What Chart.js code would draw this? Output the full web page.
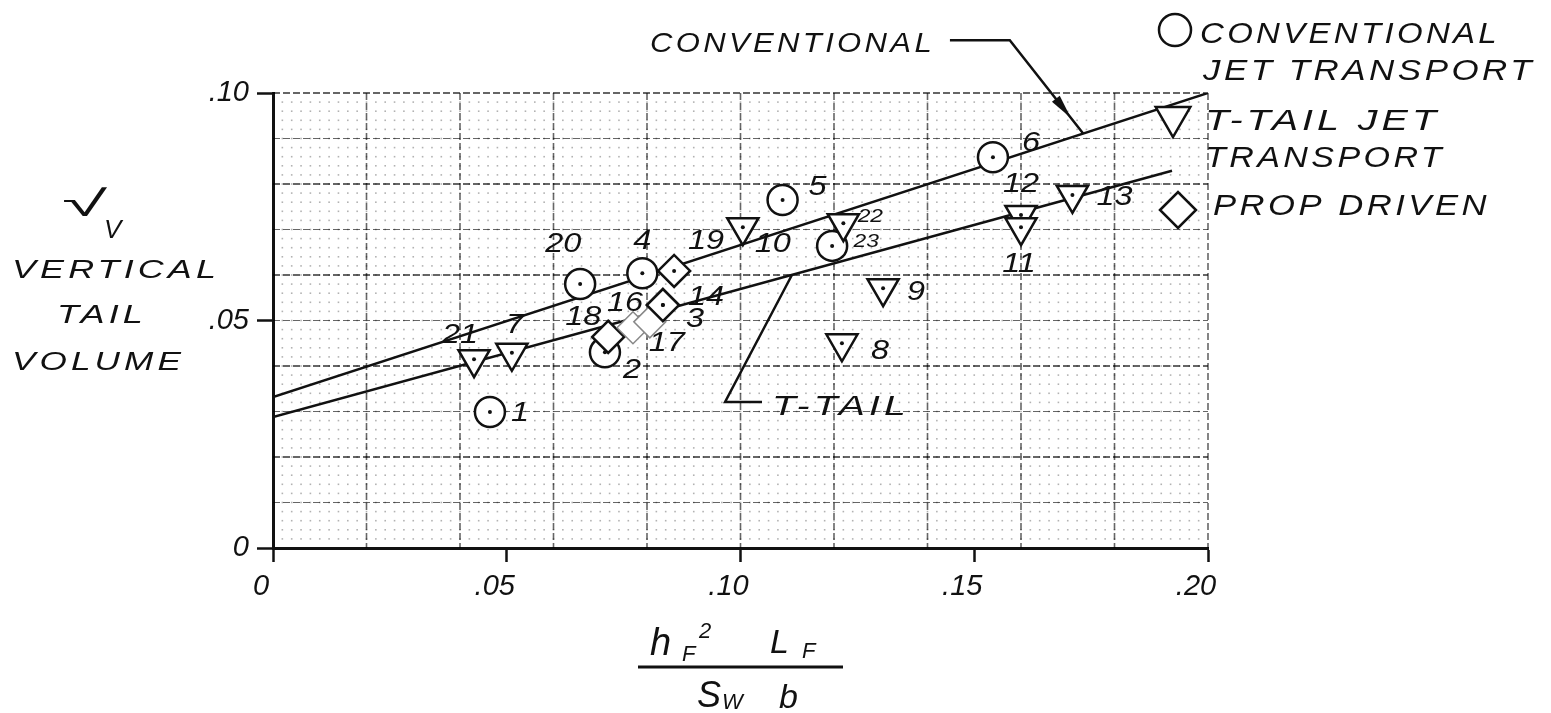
<!DOCTYPE html>
<html>
<head>
<meta charset="utf-8">
<script src="https://cdn.jsdelivr.net/npm/chart.js@4.4.0/dist/chart.umd.min.js"></script>
<style>
  html, body { margin: 0; padding: 0; background: #fff; }
  #wrap { width: 1551px; height: 713px; }
</style>
</head>
<body>
<div id="wrap"><canvas id="myChart"></canvas></div>
<script>
// conventional jet transports (circles)
const convNames = ['1', '2', '4', '5', '6', '20', '23'];
const convX = [0.0464, 0.071, 0.079, 0.109, 0.154, 0.0657, 0.1196];
const convY = [0.0299, 0.043, 0.0604, 0.0765, 0.0859, 0.058, 0.0664];

// T-tail jet transports (triangles)
const tailNames = ['21', '7', '10', '22', '9', '8', '12', '11', '13'];
const tailX = [0.043, 0.0511, 0.1005, 0.122, 0.1305, 0.1217, 0.160, 0.160, 0.171];
const tailY = [0.0415, 0.0429, 0.0705, 0.0714, 0.0571, 0.045, 0.0732, 0.0705, 0.0776];

// prop driven (diamonds)
const propNames = ['18', '16', '17', '3', '14', '19'];
const propX = [0.0717, 0.077, 0.0806, 0.0834, 0.0834, 0.0858];
const propY = [0.0464, 0.0484, 0.0497, 0.0534, 0.0534, 0.0609];

// faired lines
const convLineX = [0, 0.2];
const convLineY = [0.0332, 0.1];
const tailLineX = [0, 0.1923];
const tailLineY = [0.0288, 0.0829];

const xTicks = [0, 0.05, 0.10, 0.15, 0.20];
const yTicks = [0, 0.05, 0.10];

const FONT = '"Liberation Sans", Arial, sans-serif';
const ink = '#111';

const pts = (xs, ys) => xs.map((v, i) => ({ x: v, y: ys[i] }));
const tickText = (v) => (v === 0 ? '0' : v.toFixed(2).slice(1));

// where each number sits relative to its marker (px)
const labelOffsets = {
  '1': [30, 2], '2': [27, 18], '4': [0, -32], '5': [35, -12], '6': [38, -14], '20': [-17, -40], '23': [34, -4],
  '21': [-14, -24], '7': [3, -27], '10': [30, 17], '22': [27, -6], '9': [33, 4], '8': [38, 8],
  '12': [0, -30], '11': [-2, 37], '13': [42, 3],
  '18': [-25, -19], '16': [-8, -24], '17': [17, 22], '3': [32, 14], '14': [43, -8], '19': [32, -29]
};
const faint = ['16', '17'];
const noDot = ['16', '17', '18'];

// draw hand-lettered text stretched to a given width
function letter(ctx, str, x, y, w, size) {
  ctx.save();
  ctx.font = 'italic ' + size + 'px ' + FONT;
  ctx.letterSpacing = '3px';
  const nat = ctx.measureText(str).width;
  ctx.translate(x, y);
  ctx.scale(w / nat, 1);
  ctx.fillText(str, 0, 0);
  ctx.restore();
}

const paper = {
  id: 'paper',
  beforeDatasetsDraw(chart) {
    const { ctx, chartArea: a, scales: { x, y } } = chart;
    const line = (x1, y1, x2, y2) => { ctx.beginPath(); ctx.moveTo(x1, y1); ctx.lineTo(x2, y2); ctx.stroke(); };
    ctx.save();
    // fine dots every .002
    ctx.fillStyle = 'rgba(0,0,0,0.3)';
    for (let i = 1; i < 100; i++) {
      const px = x.getPixelForValue(i * 0.002);
      for (let j = 1; j < 50; j++) {
        const py = y.getPixelForValue(j * 0.002);
        ctx.fillRect(px - 0.8, py - 0.8, 1.6, 1.6);
      }
    }
    // dashed rulings
    ctx.setLineDash([7, 3]);
    ctx.strokeStyle = 'rgba(0,0,0,0.6)';
    for (let i = 1; i <= 10; i++) {
      const px = x.getPixelForValue(i * 0.02);
      ctx.lineWidth = 1.6;
      line(px, a.top, px, a.bottom);
    }
    for (let i = 1; i <= 10; i++) {
      const py = y.getPixelForValue(i * 0.01);
      ctx.lineWidth = i % 2 ? 1.2 : 2;
      line(a.left, py, a.right, py);
    }
    ctx.restore();
  }
};

const notes = {
  id: 'notes',
  afterDatasetsDraw(chart) {
    const { ctx, scales: { x, y } } = chart;
    ctx.save();
    ctx.fillStyle = ink;
    ctx.strokeStyle = ink;

    // centre dots and numbers
    chart.data.datasets.forEach((ds, i) => {
      if (!ds.names) return;
      chart.getDatasetMeta(i).data.forEach((el, j) => {
        const n = ds.names[j];
        if (!noDot.includes(n)) {
          ctx.beginPath();
          ctx.arc(el.x, el.y, 2, 0, Math.PI * 2);
          ctx.fill();
        }
        const [dx, dy] = labelOffsets[n];
        ctx.save();
        ctx.font = 'italic ' + (n === '22' || n === '23' ? 19 : 27) + 'px ' + FONT;
        ctx.textAlign = 'center';
        ctx.textBaseline = 'middle';
        ctx.translate(el.x + dx, el.y + dy);
        ctx.scale(1.2, 1);
        ctx.fillText(n, 0, 0);
        ctx.restore();
      });
    });

    // leaders
    const path = (p) => {
      ctx.beginPath();
      p.forEach(([vx, vy], k) => {
        const px = x.getPixelForValue(vx), py = y.getPixelForValue(vy);
        k ? ctx.lineTo(px, py) : ctx.moveTo(px, py);
      });
      ctx.stroke();
    };
    ctx.lineWidth = 2.5;
    const conv = [[0.1448, 0.1116], [0.1576, 0.1116], [0.1733, 0.0911]];
    path(conv);
    // arrow head on the conventional leader
    const ax = x.getPixelForValue(conv[1][0]), ay = y.getPixelForValue(conv[1][1]);
    const bx = x.getPixelForValue(conv[2][0]), by = y.getPixelForValue(conv[2][1]);
    const ang = Math.atan2(by - ay, bx - ax);
    const tx = ax + (bx - ax) * 0.83, ty = ay + (by - ay) * 0.83;
    ctx.save();
    ctx.translate(tx, ty);
    ctx.rotate(ang);
    ctx.beginPath();
    ctx.moveTo(0, 0);
    ctx.lineTo(-24, -5);
    ctx.lineTo(-24, 5);
    ctx.closePath();
    ctx.fill();
    ctx.restore();
    path([[0.1046, 0.0321], [0.0967, 0.0321], [0.111, 0.0600]]);

    ctx.textAlign = 'left';
    ctx.textBaseline = 'alphabetic';
    letter(ctx, 'CONVENTIONAL', 650, 52, 285, 28);
    letter(ctx, 'T-TAIL', 772, 415, 138, 28);

    // y axis title
    letter(ctx, '\u221A', 62, 216, 52, 36);
    ctx.font = 'italic 26px ' + FONT;
    ctx.fillText('V', 104, 238);
    letter(ctx, 'VERTICAL', 12, 278, 208, 26);
    letter(ctx, 'TAIL', 57, 323, 90, 26);
    letter(ctx, 'VOLUME', 12, 370, 173, 26);

    // x axis title
    ctx.font = 'italic 38px ' + FONT;
    ctx.fillText('h', 650, 655);
    ctx.font = 'italic 34px ' + FONT;
    ctx.fillText('L', 770, 653);
    ctx.font = 'italic 22px ' + FONT;
    ctx.fillText('F', 682, 661);
    ctx.fillText('F', 802, 658);
    ctx.fillText('2', 699, 638);
    ctx.lineWidth = 3;
    ctx.beginPath();
    ctx.moveTo(638, 667);
    ctx.lineTo(843, 667);
    ctx.stroke();
    ctx.font = 'italic 36px ' + FONT;
    ctx.fillText('S', 697, 707);
    ctx.font = 'italic 34px ' + FONT;
    ctx.fillText('b', 779, 708);
    ctx.font = 'italic 22px ' + FONT;
    ctx.fillText('W', 722, 709);
    ctx.restore();
  },
  afterDraw(chart) {
    const { ctx, chartArea: a } = chart;
    const draw = Chart.helpers.drawPoint;
    ctx.save();
    ctx.fillStyle = '#fff';
    ctx.strokeStyle = ink;
    ctx.lineWidth = 2.5;
    draw(ctx, { pointStyle: 'circle', radius: 16, borderWidth: 2.5, rotation: 0 }, a.right - 33, a.top - 63);
    draw(ctx, { pointStyle: 'triangle', radius: 20, borderWidth: 2.5, rotation: 180 }, a.right - 35, a.top + 24);
    draw(ctx, { pointStyle: 'rectRot', radius: 18, borderWidth: 2.5, rotation: 0 }, a.right - 30, a.top + 117);
    ctx.fillStyle = ink;
    letter(ctx, 'CONVENTIONAL', 1200, 43, 300, 30);
    letter(ctx, 'JET TRANSPORT', 1203, 80, 332, 30);
    letter(ctx, 'T-TAIL JET', 1205, 130, 235, 30);
    letter(ctx, 'TRANSPORT', 1205, 167, 240, 30);
    letter(ctx, 'PROP DRIVEN', 1213, 215, 277, 30);
    ctx.restore();
  }
};

const scaleFont = { family: FONT, size: 29, style: 'italic' };

new Chart(document.getElementById('myChart'), {
  type: 'scatter',
  data: {
    datasets: [
      {
        label: 'Conventional',
        data: pts(convLineX, convLineY),
        showLine: true,
        borderColor: ink,
        borderWidth: 2.5,
        pointRadius: 0,
        order: 10
      },
      {
        label: 'T-tail',
        data: pts(tailLineX, tailLineY),
        showLine: true,
        borderColor: ink,
        borderWidth: 2.5,
        pointRadius: 0,
        order: 10
      },
      {
        label: 'Conventional jet transport',
        names: convNames,
        data: pts(convX, convY),
        pointStyle: 'circle',
        pointRadius: 15,
        pointBackgroundColor: '#fff',
        pointBorderColor: ink,
        pointBorderWidth: 2.5,
        order: 3
      },
      {
        label: 'T-tail jet transport',
        names: tailNames,
        data: pts(tailX, tailY),
        pointStyle: 'triangle',
        pointRotation: 180,
        pointRadius: 18,
        pointBackgroundColor: '#fff',
        pointBorderColor: ink,
        pointBorderWidth: 2.5,
        order: 2
      },
      {
        label: 'Prop driven',
        names: propNames,
        data: pts(propX, propY),
        pointStyle: 'rectRot',
        pointRadius: 16,
        pointBackgroundColor: '#fff',
        pointBorderColor: (c) => (faint.includes(propNames[c.dataIndex]) ? '#888' : ink),
        pointBorderWidth: (c) => (faint.includes(propNames[c.dataIndex]) ? 1.5 : 2.5),
        order: 1
      }
    ]
  },
  options: {
    responsive: true,
    maintainAspectRatio: false,
    animation: false,
    events: [],
    layout: { padding: { top: 93, right: 343, left: 0, bottom: 0 } },
    plugins: {
      legend: { display: false },
      tooltip: { enabled: false }
    },
    scales: {
      x: {
        type: 'linear',
        min: 0,
        max: 0.2,
        afterFit: (s) => { s.height = 165; },
        afterBuildTicks: (s) => { s.ticks = xTicks.map((v) => ({ value: v })); },
        ticks: { callback: tickText, color: ink, font: scaleFont, padding: 8, labelOffset: -12, maxRotation: 0 },
        grid: { drawOnChartArea: false, tickLength: 14, tickWidth: 2.5, tickColor: ink },
        border: { color: ink, width: 3 }
      },
      y: {
        type: 'linear',
        min: 0,
        max: 0.1,
        afterFit: (s) => { s.width = 273; },
        afterBuildTicks: (s) => { s.ticks = yTicks.map((v) => ({ value: v })); },
        ticks: { callback: tickText, color: ink, font: scaleFont, padding: 8 },
        grid: { drawOnChartArea: false, tickLength: 16, tickWidth: 2.5, tickColor: ink },
        border: { color: ink, width: 3 }
      }
    }
  },
  plugins: [paper, notes]
});
</script>
</body>
</html>
